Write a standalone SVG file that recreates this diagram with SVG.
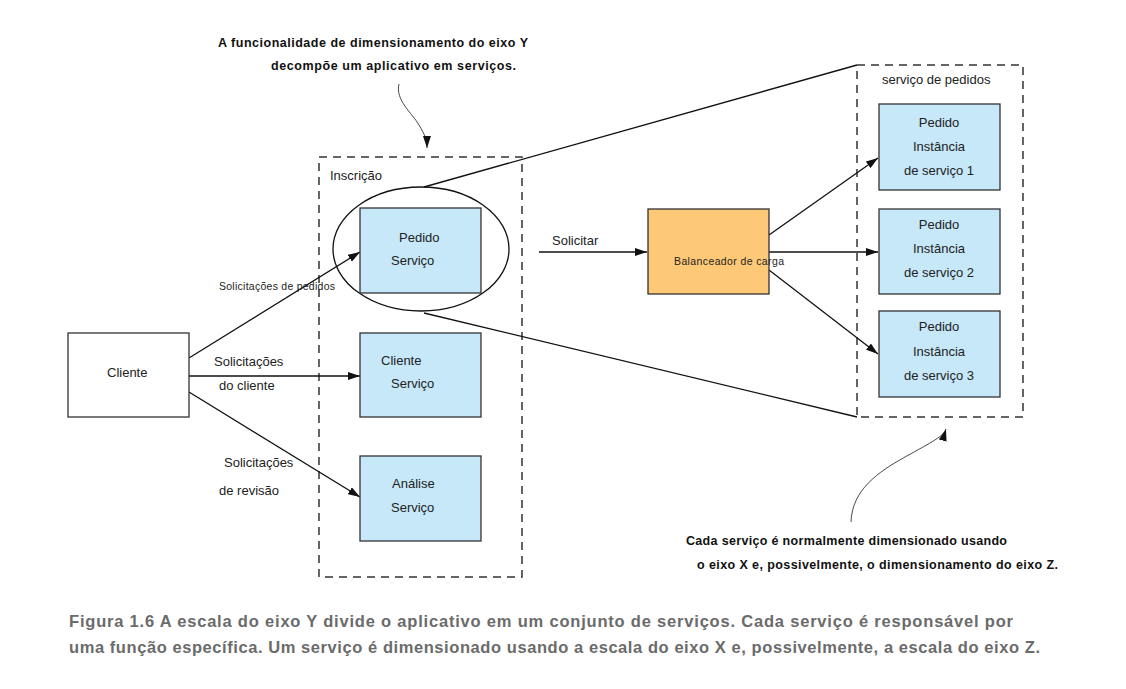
<svg xmlns="http://www.w3.org/2000/svg" width="1126" height="689" viewBox="0 0 1126 689">
<style>
text{font-family:"Liberation Sans",Arial,sans-serif;fill:#222;font-size:13px}
.b{font-weight:bold;font-size:12.5px;fill:#111}
.cap{font-weight:bold;font-size:16.5px;fill:#6b6b6b}
.sm{font-size:10.5px}
.box{fill:#c6e8f8;stroke:#333;stroke-width:1.3}
.dash{fill:none;stroke:#333;stroke-width:1.5;stroke-dasharray:8,6}
.ln{fill:none;stroke:#111;stroke-width:1.3}
.ar{fill:none;stroke:#111;stroke-width:1.3;marker-end:url(#ah)}
.cv{fill:none;stroke:#333;stroke-width:0.9;marker-end:url(#ah)}
.c{text-anchor:middle}
</style>
<defs>
<marker id="ah" viewBox="0 0 12 8" refX="12" refY="4" markerWidth="12" markerHeight="8" markerUnits="userSpaceOnUse" orient="auto">
<path d="M0,0 L12,4 L0,8 Z" fill="#111"/>
</marker>
</defs>
<rect width="1126" height="689" fill="#fff"/>

<g id="annotations">
<text class="b" x="218" y="47" textLength="310" lengthAdjust="spacing">A funcionalidade de dimensionamento do eixo Y</text>
<text class="b" x="271" y="70" textLength="245" lengthAdjust="spacing">decompõe um aplicativo em serviços.</text>
<text class="b" x="686" y="545" textLength="321" lengthAdjust="spacing">Cada serviço é normalmente dimensionado usando</text>
<text class="b" x="697" y="569" textLength="361" lengthAdjust="spacing">o eixo X e, possivelmente, o dimensionamento do eixo Z.</text>
<text class="cap" x="69" y="627" textLength="944" lengthAdjust="spacing">Figura 1.6 A escala do eixo Y divide o aplicativo em um conjunto de serviços. Cada serviço é responsável por</text>
<text class="cap" x="69" y="653" textLength="971" lengthAdjust="spacing">uma função específica. Um serviço é dimensionado usando a escala do eixo X e, possivelmente, a escala do eixo Z.</text>
</g>

<g id="inscricao">
<rect class="dash" x="319" y="157" width="203" height="420"/>
<text x="330" y="180">Inscrição</text>
</g>
<g id="servico-pedidos-group">
<rect class="dash" x="857" y="65" width="166" height="352"/>
<text x="882" y="84">serviço de pedidos</text>
</g>

<g id="connectors">
<path class="ln" d="M424,187 L857,65"/>
<path class="ln" d="M424,313 L857,417"/>
<path class="ar" d="M189,358 L360,252"/>
<path class="ar" d="M189,376 L360,376"/>
<path class="ar" d="M189,392 L360,497"/>
<path class="ar" d="M539,252 L647,252"/>
<path class="ar" d="M769,235 L878,158"/>
<path class="ar" d="M769,252 L878,252"/>
<path class="ar" d="M769,270 L878,354"/>
<path class="cv" d="M399,84 C395,100 412,113 419,125 C425,135 427,140 427,148"/>
<path class="cv" d="M851,522 C852,490 878,472 905,457 C932,442 944,436 946,429"/>
<text class="sm" x="219" y="290" textLength="116" lengthAdjust="spacing">Solicitações de pedidos</text>
<text x="214" y="366">Solicitações</text>
<text x="219" y="390">do cliente</text>
<text x="224" y="467">Solicitações</text>
<text x="219" y="495">de revisão</text>
<text x="552" y="245">Solicitar</text>
</g>

<g id="ellipse">
<ellipse cx="421" cy="249" rx="88" ry="62" fill="none" stroke="#111" stroke-width="1.3"/>
</g>

<g id="cliente">
<rect x="68" y="333" width="121" height="84" fill="#fff" stroke="#333" stroke-width="1.3"/>
<text x="107" y="377">Cliente</text>
</g>
<g id="pedido-servico">
<rect class="box" x="360" y="208" width="121" height="85"/>
<text x="399" y="242">Pedido</text>
<text x="391" y="265">Serviço</text>
</g>
<g id="cliente-servico">
<rect class="box" x="360" y="333" width="121" height="84"/>
<text x="381" y="365">Cliente</text>
<text x="391" y="388">Serviço</text>
</g>
<g id="analise-servico">
<rect class="box" x="360" y="456" width="121" height="85"/>
<text x="392" y="488">Análise</text>
<text x="391" y="512">Serviço</text>
</g>
<g id="balanceador">
<rect x="648" y="209" width="121" height="85" fill="#fdc977" stroke="#333" stroke-width="1.3"/>
<text class="sm" x="674" y="265" textLength="110" lengthAdjust="spacing">Balanceador de carga</text>
</g>
<g id="instancia1">
<rect class="box" x="879" y="104" width="121" height="86"/>
<text class="c" x="939" y="127">Pedido</text>
<text class="c" x="939" y="151">Instância</text>
<text class="c" x="939" y="175">de serviço 1</text>
</g>
<g id="instancia2">
<rect class="box" x="879" y="209" width="121" height="85"/>
<text class="c" x="939" y="229">Pedido</text>
<text class="c" x="939" y="253">Instância</text>
<text class="c" x="939" y="277">de serviço 2</text>
</g>
<g id="instancia3">
<rect class="box" x="879" y="311" width="121" height="86"/>
<text class="c" x="939" y="331">Pedido</text>
<text class="c" x="939" y="356">Instância</text>
<text class="c" x="939" y="380">de serviço 3</text>
</g>
</svg>
